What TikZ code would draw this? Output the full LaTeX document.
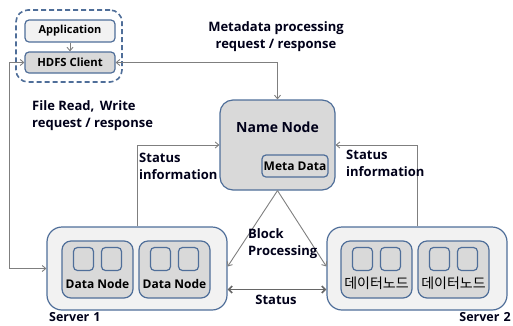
\documentclass[tikz,border=0pt]{standalone}
\usepackage{fontspec}
\setmainfont{Open Sans}
\newfontfamily\kofont{Noto Sans CJK KR}
\usetikzlibrary{arrows.meta}
\definecolor{edgeblue}{HTML}{4F6E99}
\definecolor{lightfill}{HTML}{F2F2F2}
\definecolor{midfill}{HTML}{D9D9D9}
\definecolor{wire}{HTML}{7F7F7F}
\tikzset{
  box/.style={draw=edgeblue, line width=1.2pt, rounded corners=#1, inner sep=0pt},
  box/.default=4pt,
  lbl/.style={font=\bfseries\fontsize{13}{17}\selectfont, align=left, inner sep=0pt, text=black!90!blue},
  conn/.style={draw=wire, line width=0.9pt, -{Straight Barb[length=3.5pt,width=6pt]}},
  biconn/.style={draw=wire, line width=0.9pt, {Straight Barb[length=3.5pt,width=6pt]}-{Straight Barb[length=3.5pt,width=6pt]}},
  slot/.style={box=4pt, fill=midfill, minimum width=20pt, minimum height=23pt},
}
\begin{document}
\begin{tikzpicture}[x=1pt,y=-1pt]
\useasboundingbox (0,0) rectangle (513,325);

% client side
\node[box=12pt, dashed, dash pattern=on 5pt off 3pt, line width=1.6pt, minimum width=106pt, minimum height=72pt] (grp) at (69,46) {};
\node[box, fill=lightfill, minimum width=90pt, minimum height=22pt, font=\bfseries\fontsize{11}{12}\selectfont] (app) at (70,31) {Application};
\node[box, fill=midfill, minimum width=90pt, minimum height=21pt, font=\bfseries\fontsize{11.3}{12}\selectfont] (hdfs) at (70,62.5) {HDFS Client};

% name node
\node[box=13pt, fill=midfill, minimum width=115pt, minimum height=90pt] (nn) at (277.5,145) {};
\node[lbl, anchor=center, font=\bfseries\fontsize{14}{17}\selectfont] (nnl) at (277.5,127) {Name Node};
\node[box=4pt, fill=midfill, minimum width=66pt, minimum height=22pt, font=\bfseries\fontsize{12}{13}\selectfont] (meta) at (295,166) {Meta Data};

% servers
\node[box=15pt, fill=lightfill, minimum width=180pt, minimum height=83pt] (s1) at (137,268.5) {};
\node[box=15pt, fill=lightfill, minimum width=180pt, minimum height=83pt] (s2) at (417,268.5) {};

\foreach \nm/\cx/\txt in {d1a/97.5/{\bfseries\fontsize{12}{13}\selectfont Data Node}, d1b/174.5/{\bfseries\fontsize{12}{13}\selectfont Data Node}, d2a/376.5/{\kofont\fontsize{14}{15}\selectfont 데이터노드}, d2b/453.5/{\kofont\fontsize{14}{15}\selectfont 데이터노드}}{
  \node[box=9pt, fill=midfill, minimum width=71pt, minimum height=57pt] (\nm) at (\cx,269.5) {};
  \node[slot] (\nm-l) at (\cx-14,259) {};
  \node[slot] (\nm-r) at (\cx+14,259) {};
  \node[inner sep=0pt] (\nm-t) at (\cx,283.5) {\txt};
}

\node[lbl, anchor=west, font=\bfseries\fontsize{12.5}{14}\selectfont] (sv1) at (49,317) {Server\,\,1};
\node[lbl, anchor=east, font=\bfseries\fontsize{12.5}{14}\selectfont] (sv2) at (511,317) {Server\,\,2};

% connectors
\draw[conn] (app) -- (hdfs);
\draw[biconn] (hdfs.east) -| (nn.north);
\draw[biconn] (hdfs.west) -- ++(-15,0) |- (s1.west);
\draw[conn] (s1.north) |- (nn.west);
\draw[conn] (s2.north) |- (nn.east);
\draw[conn] (nn.south) -- ([yshift=2pt]s1.east);
\draw[conn] (nn.south) -- ([yshift=2pt]s2.west);
\draw[draw=wire!80!black, line width=1.6pt, {Straight Barb[length=3.5pt,width=7pt]}-{Straight Barb[length=3.5pt,width=7pt]}] ([yshift=-21pt]s1.east) -- ([yshift=-21pt]s2.west);

% labels
\node[lbl, align=center] (lmeta) at (276,36.5) {Metadata processing\\request / response};
\node[lbl, anchor=west] (lfile) at (32,115.5) {File Read,\, Write\\request / response};
\node[lbl, anchor=west] (lst1) at (139,166) {Status\\information};
\node[lbl, anchor=west] (lst2) at (346,163.5) {Status\\information};
\node[lbl, anchor=west] (lblk) at (248,243.5) {Block\\Processing};
\node[lbl] (lst) at (276,300) {Status};
\end{tikzpicture}
\end{document}
